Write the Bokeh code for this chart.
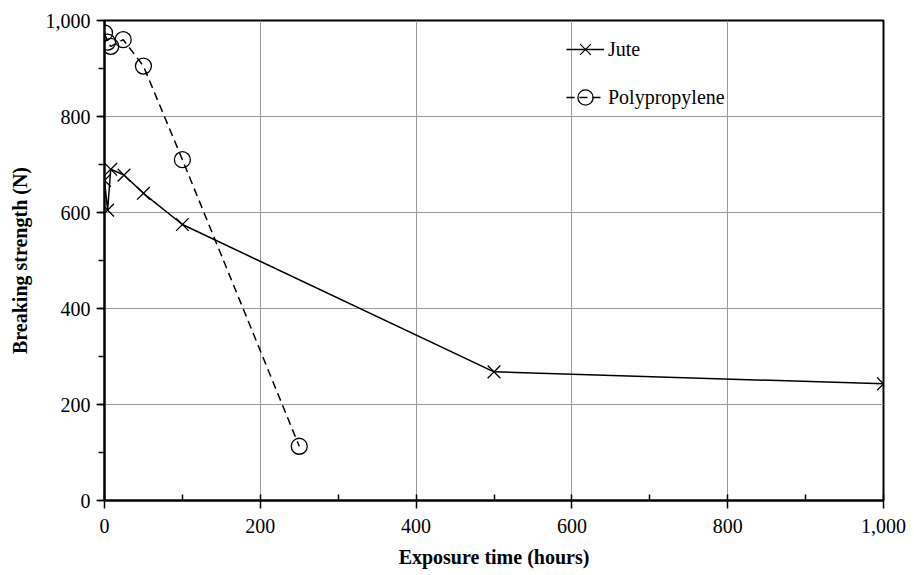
from bokeh.plotting import figure
from bokeh.models import Range1d, NumeralTickFormatter, Legend, LegendItem, SingleIntervalTicker
from bokeh.embed import file_html
from bokeh.resources import INLINE

jute_hours = [0, 4, 8, 25, 50, 100, 500, 1000]
jute_strength = [667, 605, 690, 678, 640, 575, 268, 243]
pp_hours = [0, 4, 8, 24, 50, 100, 250]
pp_strength = [974, 955, 946, 960, 905, 710, 113]

FONT = "Liberation Serif"

p = figure(width=906, height=572, output_backend="svg", toolbar_location=None,
           x_range=Range1d(0, 1000), y_range=Range1d(0, 1000),
           min_border_left=104, min_border_top=20, min_border_right=23, min_border_bottom=72)
p.outline_line_color = "black"
p.outline_line_width = 2

jl = p.line(jute_hours, jute_strength, line_color="black", line_width=1.5)
js = p.scatter(jute_hours, jute_strength, marker="x", size=18, line_color="black", line_width=1.3)
pl = p.line(pp_hours, pp_strength, line_color="black", line_width=1.5, line_dash="8 5")
ps = p.scatter(pp_hours, pp_strength, marker="circle", size=16, line_color="black",
               fill_color=None, line_width=1.3)

for ax in (p.xaxis[0], p.yaxis[0]):
    ax.ticker = SingleIntervalTicker(interval=200, num_minor_ticks=2)
    ax.formatter = NumeralTickFormatter(format="0,0")
    ax.axis_line_width = 2
    ax.axis_line_color = "black"
    ax.major_tick_line_color = "black"
    ax.minor_tick_line_color = "black"
    ax.major_tick_line_width = 1.5
    ax.minor_tick_line_width = 1.5
    ax.major_label_text_font = FONT
    ax.major_label_text_font_size = "20px"
    ax.major_label_text_color = "black"
    ax.axis_label_text_font = FONT
    ax.axis_label_text_font_size = "20px"
    ax.axis_label_text_font_style = "bold"
    ax.axis_label_text_color = "black"

p.xaxis.major_tick_in = 0
p.xaxis.major_tick_out = 8
p.xaxis.minor_tick_in = 6
p.xaxis.minor_tick_out = 0
p.xaxis.major_label_standoff = 10
p.xaxis.axis_label = "Exposure time (hours)"
p.xaxis.axis_label_standoff = 10

p.yaxis.major_tick_in = 0
p.yaxis.major_tick_out = 8
p.yaxis.minor_tick_in = 0
p.yaxis.minor_tick_out = 6
p.yaxis.major_label_standoff = 6
p.yaxis.axis_label = "Breaking strength (N)"
p.yaxis.axis_label_standoff = 12

p.grid.grid_line_color = "#999999"
p.grid.grid_line_width = 1
p.grid.grid_line_alpha = 1

legend = Legend(items=[LegendItem(label="Jute", renderers=[jl, js]),
                       LegendItem(label="Polypropylene", renderers=[pl, ps])],
                location=(462, 383), orientation="vertical",
                glyph_width=38, glyph_height=40, label_height=40, spacing=8,
                padding=0, margin=0, label_standoff=4,
                border_line_color=None, background_fill_alpha=0,
                label_text_font=FONT, label_text_font_size="20px", label_text_color="black")
p.add_layout(legend)

open("out.html", "w").write(file_html(p, INLINE))
